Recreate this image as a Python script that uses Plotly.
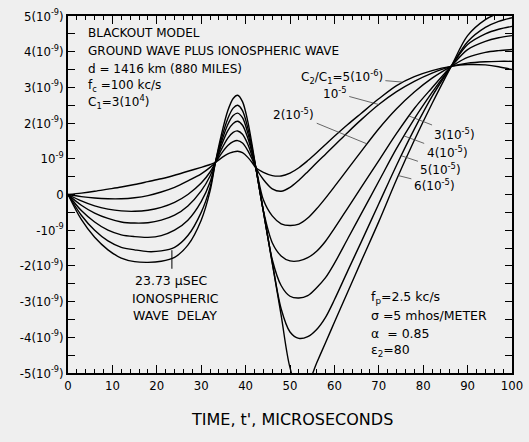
import plotly.graph_objects as go

# time axis (microseconds)
T = [0, 3, 6, 9, 12, 15, 18, 21, 24, 27, 30, 32, 33.2,
     34.5, 36, 37.2, 38.2, 39.3, 40.5, 41.5, 42.3,
     44, 46, 48, 50, 52, 54, 56, 58, 60,
     63, 66, 70, 74, 78, 82, 86.3,
     90, 94, 97, 100]

# curves for C2/C1 values (units of 1e-9)
C_5e6 = [0, 0.04, 0.09, 0.15, 0.21, 0.28, 0.36, 0.44, 0.54, 0.65, 0.76, 0.84, 0.9,
         1.02, 1.14, 1.19, 1.21, 1.17, 1.04, 0.89, 0.75,
         0.62, 0.53, 0.52, 0.6, 0.75, 0.95, 1.17, 1.4, 1.63,
         1.96, 2.27, 2.68, 3.05, 3.3, 3.47, 3.59,
         3.64, 3.63, 3.58, 3.5]
C_1e5 = [0, -0.06, -0.1, -0.12, -0.12, -0.09, -0.03, 0.07, 0.2, 0.38, 0.58, 0.76, 0.9,
         1.14, 1.37, 1.48, 1.51, 1.44, 1.23, 0.98, 0.75,
         0.42, 0.16, 0.09, 0.2, 0.4, 0.64, 0.89, 1.13, 1.37,
         1.74, 2.09, 2.52, 2.88, 3.17, 3.4, 3.59,
         3.68, 3.72, 3.73, 3.73]
C_2e5 = [0, -0.18, -0.32, -0.41, -0.46, -0.47, -0.44, -0.36, -0.22, 0.0, 0.32, 0.63, 0.9,
         1.25, 1.58, 1.74, 1.78, 1.69, 1.41, 1.06, 0.75,
         -0.15, -0.6, -0.82, -0.87, -0.83, -0.66, -0.4, -0.1, 0.22,
         0.71, 1.2, 1.84, 2.4, 2.87, 3.26, 3.59,
         3.84, 3.98, 4.03, 4.06]
C_3e5 = [0, -0.3, -0.52, -0.67, -0.77, -0.8, -0.79, -0.72, -0.58, -0.32, 0.1, 0.52, 0.9,
         1.36, 1.79, 1.99, 2.05, 1.94, 1.58, 1.14, 0.75,
         -0.45, -1.35, -1.72, -1.86, -1.86, -1.77, -1.59, -1.31, -0.95,
         -0.38, 0.19, 0.95, 1.71, 2.41, 2.99, 3.59,
         4.06, 4.29, 4.39, 4.45]
C_4e5 = [0, -0.45, -0.77, -1.0, -1.13, -1.18, -1.2, -1.15, -1.0, -0.72, -0.2, 0.35, 0.9,
         1.45, 1.96, 2.21, 2.28, 2.15, 1.72, 1.21, 0.75,
         -0.46, -1.82, -2.55, -2.85, -2.9, -2.83, -2.61, -2.33, -1.93,
         -1.24, -0.55, 0.37, 1.29, 2.12, 2.86, 3.59,
         4.2, 4.5, 4.63, 4.71]
C_5e5 = [0, -0.58, -1.0, -1.3, -1.48, -1.55, -1.6, -1.58, -1.48, -1.15, -0.5, 0.2, 0.9,
         1.54, 2.13, 2.42, 2.5, 2.35, 1.86, 1.28, 0.75,
         -0.47, -1.9, -3.2, -3.85, -4.03, -3.98, -3.78, -3.44, -2.95,
         -2.14, -1.34, -0.26, 0.82, 1.83, 2.75, 3.59,
         4.28, 4.68, 4.85, 4.95]
C_6e5 = [0, -0.7, -1.2, -1.55, -1.78, -1.88, -1.9, -1.87, -1.76, -1.42, -0.72, 0.1, 0.9,
         1.65, 2.35, 2.69, 2.78, 2.6, 2.04, 1.36, 0.75,
         -0.47, -1.92, -3.38, -4.85, -5.5, -5.3, -4.72, -4.15, -3.58,
         -2.73, -1.88, -0.76, 0.42, 1.52, 2.55, 3.59,
         4.45, 4.9, 5.08, 5.2]

SERIES = [C_5e6, C_1e5, C_2e5, C_3e5, C_4e5, C_5e5, C_6e5]

Y_TICKS = [5, 4, 3, 2, 1, 0, -1, -2, -3, -4, -5]
Y_LABELS = ["5(10<sup>-9</sup>)", "4(10<sup>-9</sup>)", "3(10<sup>-9</sup>)", "2(10<sup>-9</sup>)",
            "10<sup>-9</sup>", "0", "-10<sup>-9</sup>", "-2(10<sup>-9</sup>)",
            "-3(10<sup>-9</sup>)", "-4(10<sup>-9</sup>)", "-5(10<sup>-9</sup>)"]
X_TICKS = [0, 10, 20, 30, 40, 50, 60, 70, 80, 90, 100]

# curve labels: text, point on curve (t, v), text offset in px
CURVE_LABELS = [
    ("C<sub>2</sub>/C<sub>1</sub>=5(10<sup>-6</sup>)", 75.2, 3.15, -60, -5),
    ("10<sup>-5</sup>", 70.0, 2.52, -44, -12),
    ("2(10<sup>-5</sup>)", 67.3, 1.42, -73, -30),
    ("3(10<sup>-5</sup>)", 76.8, 2.2, 46, 18),
    ("4(10<sup>-5</sup>)", 75.7, 1.64, 43, 16),
    ("5(10<sup>-5</sup>)", 75.2, 1.08, 39, 13),
    ("6(10<sup>-5</sup>)", 74.4, 0.53, 36, 9),
]

TICK_FONT = "DejaVu Sans Condensed, Liberation Sans Narrow, Liberation Sans, sans-serif"
TEXT_FONT = "DejaVu Sans, sans-serif"
BG = "#efefef"

fig = go.Figure()
for s in SERIES:
    fig.add_trace(go.Scatter(x=T, y=s, mode="lines",
                             line=dict(color="black", width=1.4, shape="spline", smoothing=0.9),
                             showlegend=False, hoverinfo="skip"))

fig.update_layout(
    width=529, height=442,
    margin=dict(l=68, r=17, t=16, b=69, autoexpand=False),
    paper_bgcolor=BG, plot_bgcolor=BG,
    showlegend=False,
)
fig.update_xaxes(range=[0, 100], tickvals=X_TICKS, ticks="inside", ticklen=8, tickwidth=1,
                 tickcolor="black", showline=True, linecolor="black", linewidth=1.5,
                 mirror="ticks", showgrid=False, zeroline=False, automargin=False,
                 tickfont=dict(family=TICK_FONT, size=13, color="black"),
                 minor=dict(dtick=2, ticks="inside", ticklen=4, tickcolor="black", tickwidth=1, showgrid=False))
fig.update_yaxes(range=[-5, 5], tickvals=Y_TICKS, ticktext=Y_LABELS, ticks="inside", ticklen=7,
                 tickwidth=1, tickcolor="black", showline=True, linecolor="black", linewidth=1.5,
                 mirror="ticks", showgrid=False, zeroline=False, automargin=False,
                 tickfont=dict(family=TICK_FONT, size=13, color="black"),
                 minor=dict(dtick=0.5, ticks="inside", ticklen=7, tickcolor="black", tickwidth=1, showgrid=False))

def txt(x, y, s, size=12, xanchor="left", xref="x", yref="y"):
    fig.add_annotation(x=x, y=y, xref=xref, yref=yref, text=s, showarrow=False,
                       xanchor=xanchor, yanchor="middle",
                       font=dict(family=TEXT_FONT, size=size, color="black"))

# header block
txt(4.0, 4.51, "BLACKOUT MODEL")
txt(4.0, 4.01, "GROUND WAVE PLUS IONOSPHERIC WAVE")
txt(4.0, 3.51, "d = 1416 km (880 MILES)")
txt(4.0, 3.03, "f<sub>c</sub> =100 kc/s")
txt(4.0, 2.58, "C<sub>1</sub>=3(10<sup>4</sup>)")

# delay note
txt(14.6, -2.40, "23.73 \u03bcSEC", size=12.5)
txt(14.0, -2.90, "IONOSPHERIC", size=12.5)
txt(14.1, -3.40, "WAVE  DELAY", size=12.5)
fig.add_shape(type="line", x0=23.4, x1=23.4, y0=-2.08, y1=-1.56, xref="x", yref="y",
              line=dict(color="black", width=1))

# parameters block
txt(67.8, -2.88, "f<sub>p</sub>=2.5 kc/s", size=12.5)
txt(67.8, -3.38, "\u03c3 =5 mhos/METER", size=12.5)
txt(67.8, -3.88, "\u03b1  = 0.85", size=12.5)
txt(67.8, -4.38, "\u03b5<sub>2</sub>=80", size=12.5)

for s, x, y, ax, ay in CURVE_LABELS:
    fig.add_annotation(x=x, y=y, xref="x", yref="y", text=s, showarrow=True,
                       arrowhead=0, arrowwidth=0.8, arrowcolor="#444", ax=ax, ay=ay,
                       standoff=0, startstandoff=1,
                       font=dict(family=TEXT_FONT, size=12, color="black"))

# axis title
fig.add_annotation(x=0.505, y=-0.129, xref="paper", yref="paper", text="TIME, t', MICROSECONDS",
                   showarrow=False, xanchor="center", yanchor="middle",
                   font=dict(family=TEXT_FONT, size=16, color="black"))

fig.write_html("out.html")
